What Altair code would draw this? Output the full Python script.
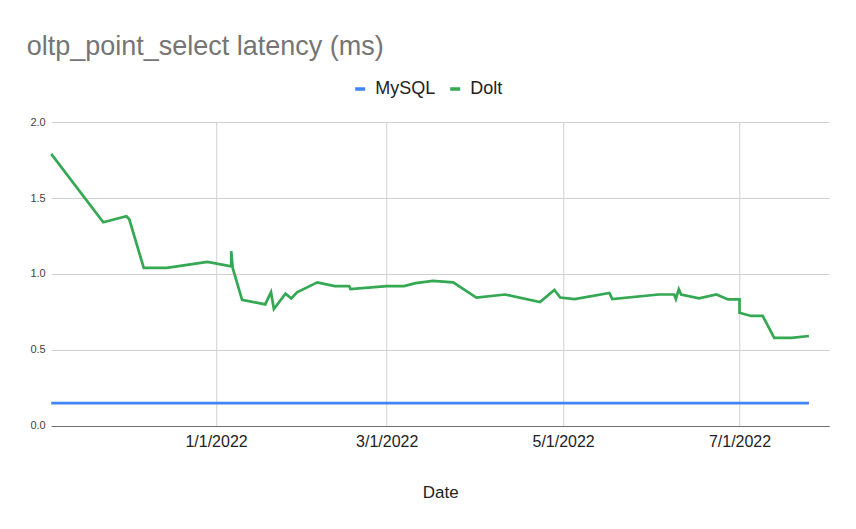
import altair as alt
import pandas as pd

# ---- data ----
dolt_dates = [
    "2021-11-05", "2021-11-23", "2021-12-01", "2021-12-02", "2021-12-07",
    "2021-12-15", "2021-12-29", "2022-01-06T06:00", "2022-01-06T06:00", "2022-01-06T18:00",
    "2022-01-10", "2022-01-18", "2022-01-20", "2022-01-21", "2022-01-25",
    "2022-01-27", "2022-01-29", "2022-02-05", "2022-02-11", "2022-02-16",
    "2022-02-16T12:00", "2022-03-01", "2022-03-07", "2022-03-11", "2022-03-17",
    "2022-03-24", "2022-04-01", "2022-04-11", "2022-04-23", "2022-04-28",
    "2022-04-30", "2022-05-05", "2022-05-17", "2022-05-18", "2022-06-03",
    "2022-06-08T10:00", "2022-06-09", "2022-06-10", "2022-06-10T19:00", "2022-06-17",
    "2022-06-23", "2022-06-27", "2022-07-01", "2022-07-01", "2022-07-05",
    "2022-07-09", "2022-07-13", "2022-07-19", "2022-07-25",
]
dolt_values = [
    1.79, 1.34, 1.38, 1.36, 1.04,
    1.04, 1.08, 1.05, 1.15, 1.04,
    0.83, 0.80, 0.88, 0.77, 0.87,
    0.84, 0.88, 0.945, 0.92, 0.92,
    0.90, 0.92, 0.92, 0.94, 0.955,
    0.945, 0.845, 0.865, 0.815, 0.895,
    0.845, 0.835, 0.875, 0.835, 0.865,
    0.865, 0.835, 0.90, 0.865, 0.84,
    0.865, 0.833, 0.833, 0.745, 0.724,
    0.724, 0.58, 0.58, 0.592,
]
mysql_dates = ["2021-11-05", "2022-07-25"]
mysql_values = [0.15, 0.15]

series_names = ["MySQL", "Dolt"]
series_colors = ["#4285F4", "#34A853"]
x_tick_dates = [(2022, 1, 1), (2022, 3, 1), (2022, 5, 1), (2022, 7, 1)]
x_domain = [(2021, 11, 5), (2022, 8, 1)]
y_ticks = [0.0, 0.5, 1.0, 1.5, 2.0]


def iso(d):
    return d + ("T00:00:00" if "T" not in d else ":00")


rows = []
for i, (d, v) in enumerate(zip(mysql_dates, mysql_values)):
    rows.append({"Date": iso(d), "value": v, "series": "MySQL", "idx": i})
for i, (d, v) in enumerate(zip(dolt_dates, dolt_values)):
    rows.append({"Date": iso(d), "value": v, "series": "Dolt", "idx": i})
df = pd.DataFrame(rows)

FONT = "Liberation Sans"

chart = (
    alt.Chart(df)
    .mark_line(strokeWidth=2.7, strokeJoin="miter", interpolate="linear")
    .encode(
        x=alt.X(
            "Date:T",
            title="Date",
            scale=alt.Scale(
                domain=[alt.DateTime(year=y, month=m, date=d) for (y, m, d) in x_domain],
                nice=False,
            ),
            axis=alt.Axis(
                values=[alt.DateTime(year=y, month=m, date=d) for (y, m, d) in x_tick_dates],
                format="%-m/%-d/%Y",
                labelFontSize=16,
                labelColor="#222222",
                labelFont=FONT,
                labelPadding=8,
                ticks=False,
                domain=True,
                domainColor="#707070",
                domainWidth=1.2,
                grid=True,
                gridColor="#d9d9d9",
                gridWidth=1.2,
                titleFontSize=17,
                titleFont=FONT,
                titleFontWeight="normal",
                titleColor="#222222",
                titlePadding=35,
            ),
        ),
        y=alt.Y(
            "value:Q",
            title=None,
            scale=alt.Scale(domain=[0, 2], nice=False),
            axis=alt.Axis(
                values=y_ticks,
                format=".1f",
                labelFontSize=11,
                labelColor="#444444",
                labelFont=FONT,
                labelPadding=6,
                ticks=False,
                domain=False,
                grid=True,
                gridColor="#d0d0d0",
                gridWidth=1,
            ),
        ),
        color=alt.Color(
            "series:N",
            scale=alt.Scale(domain=series_names, range=series_colors),
            legend=alt.Legend(
                title=None,
                orient="none",
                legendX=300,
                legendY=-42,
                direction="horizontal",
                symbolType="stroke",
                symbolSize=100,
                symbolStrokeWidth=3.5,
                labelFontSize=18,
                labelFont=FONT,
                labelColor="#222222",
                labelOffset=6,
                columnPadding=7,
            ),
        ),
        order=alt.Order("idx:Q"),
        detail="series:N",
    )
    .properties(
        width=778,
        height=304,
        title=alt.TitleParams(
            "oltp_point_select latency (ms)",
            anchor="start",
            frame="group",
            dx=-24.5,
            offset=19,
            fontSize=27,
            font=FONT,
            fontWeight="normal",
            color="#757575",
        ),
        padding={"left": 43.2, "top": 114, "right": 18, "bottom": 95},
        autosize=alt.AutoSizeParams(type="none"),
    )
    .configure_view(stroke=None)
)

chart.save("out.html", embed_options={"renderer": "svg", "actions": False})
